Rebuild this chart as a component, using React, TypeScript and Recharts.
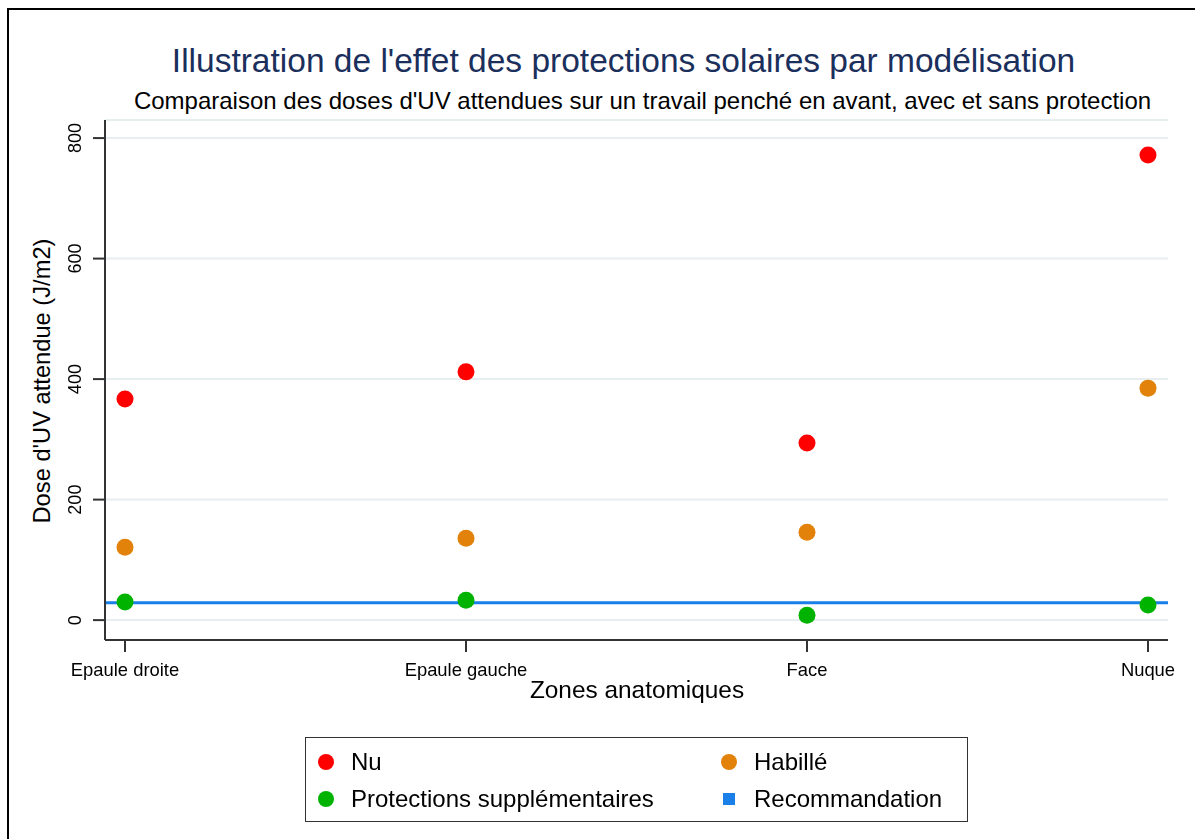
import { ComposedChart, Scatter, XAxis, YAxis, CartesianGrid, ReferenceLine } from "recharts";

const zones = ["Epaule droite", "Epaule gauche", "Face", "Nuque"];
const nu = [367, 412, 294, 772];
const habille = [121, 136, 146, 385];
const protections = [30, 33, 8, 25];
const recommandation = 29;
const yTicks = [0, 200, 400, 600, 800];

const FONT = "'Liberation Sans', Arial, sans-serif";

const series = [
  { name: "Nu", values: nu, color: "#ff0000" },
  { name: "Habillé", values: habille, color: "#e2820a" },
  { name: "Protections supplémentaires", values: protections, color: "#00b300" },
];

const toPoints = (vals: number[]) => vals.map((y, x) => ({ x, y }));

const Dot = (props: any) => {
  const { cx, cy, fill } = props;
  if (cx == null || cy == null) return null;
  return <circle cx={cx} cy={cy} r={8.5} fill={fill} />;
};

const YTick = (props: any) => {
  const { x, y, payload } = props;
  const tx = x - 16;
  return (
    <text
      x={tx}
      y={y}
      transform={`rotate(-90 ${tx} ${y})`}
      textAnchor="middle"
      dominantBaseline="central"
      fontSize={18}
      fontFamily={FONT}
      fill="#000"
    >
      {payload.value}
    </text>
  );
};

const XTick = (props: any) => {
  const { x, y, payload } = props;
  return (
    <text x={x} y={y + 15} textAnchor="middle" dominantBaseline="central" fontSize={18.4} fontFamily={FONT} fill="#000">
      {zones[payload.value]}
    </text>
  );
};

const legendItems = [
  { name: "Nu", color: "#ff0000", shape: "circle" },
  { name: "Habillé", color: "#e2820a", shape: "circle" },
  { name: "Protections supplémentaires", color: "#00b300", shape: "circle" },
  { name: "Recommandation", color: "#1a7fe8", shape: "square" },
];

export default function App() {
  return (
    <div style={{ position: "fixed", left: 0, top: 0, width: 1195, height: 839, background: "#fff", fontFamily: FONT }}>
      <div style={{ position: "absolute", left: 7, top: 8, width: 1195, height: 839, border: "2px solid #000", boxSizing: "border-box" }} />
      <div style={{ position: "absolute", left: 0, width: 1247, top: 42, textAlign: "center", fontSize: 33.5, color: "#1b2f5c", whiteSpace: "nowrap" }}>
        Illustration de l'effet des protections solaires par modélisation
      </div>
      <div style={{ position: "absolute", left: 0, width: 1285, top: 87, textAlign: "center", fontSize: 24, color: "#000", whiteSpace: "nowrap" }}>
        Comparaison des doses d'UV attendues sur un travail penché en avant, avec et sans protection
      </div>
      <div
        style={{
          position: "absolute",
          left: 42,
          top: 381,
          transform: "translate(-50%, -50%) rotate(-90deg)",
          whiteSpace: "nowrap",
          fontSize: 23.7,
          color: "#000",
        }}
      >
        Dose d'UV attendue (J/m2)
      </div>
      <div style={{ position: "absolute", left: 0, width: 1274, top: 676, textAlign: "center", fontSize: 24.4, color: "#000" }}>
        Zones anatomiques
      </div>

      <div style={{ position: "absolute", left: 0, top: 0 }}>
        <ComposedChart width={1195} height={839} margin={{ top: 120, right: 27, bottom: 169, left: 65 }}>
          <CartesianGrid vertical={false} stroke="#e7eef0" strokeWidth={2} />
          <XAxis
            type="number"
            dataKey="x"
            domain={[-0.0587, 3.0587]}
            ticks={[0, 1, 2, 3]}
            interval={0}
            height={30}
            tickSize={12}
            stroke="#333"
            strokeWidth={2}
            tick={<XTick />}
            allowDataOverflow
          />
          <YAxis
            type="number"
            dataKey="y"
            domain={[-33, 830]}
            ticks={yTicks}
            width={40}
            tickSize={12}
            stroke="#333"
            strokeWidth={2}
            tick={<YTick />}
            allowDataOverflow
          />
          <ReferenceLine y={recommandation} stroke="#1a7fe8" strokeWidth={3} />
          {series.map((s) => (
            <Scatter
              key={s.name}
              name={s.name}
              data={toPoints(s.values)}
              fill={s.color}
              shape={<Dot />}
              isAnimationActive={false}
            />
          ))}
        </ComposedChart>
      </div>

      <div
        style={{
          position: "absolute",
          left: 305,
          top: 737,
          width: 663,
          height: 85,
          border: "1.5px solid #333",
          boxSizing: "border-box",
        }}
      >
        {legendItems.map((it, i) => {
          const col = i % 2;
          const row = Math.floor(i / 2);
          const mx = col === 0 ? 20 : 423;
          const my = row === 0 ? 24 : 61;
          return (
            <div key={it.name}>
              <div
                style={{
                  position: "absolute",
                  left: mx - (it.shape === "circle" ? 8 : 6),
                  top: my - (it.shape === "circle" ? 8 : 6),
                  width: it.shape === "circle" ? 16 : 12,
                  height: it.shape === "circle" ? 16 : 12,
                  borderRadius: it.shape === "circle" ? "50%" : 0,
                  background: it.color,
                }}
              />
              <div style={{ position: "absolute", left: mx + 25, top: my - 14, fontSize: 24, whiteSpace: "nowrap", color: "#000" }}>
                {it.name}
              </div>
            </div>
          );
        })}
      </div>
    </div>
  );
}
